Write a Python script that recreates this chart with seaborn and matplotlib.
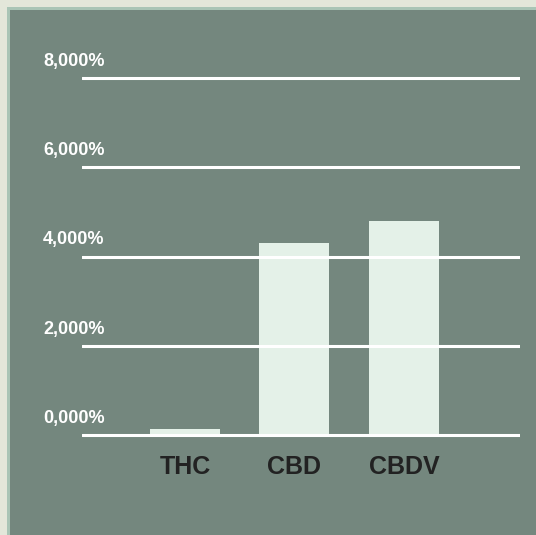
import matplotlib
matplotlib.use("Agg")
import matplotlib.pyplot as plt
import pandas as pd
import seaborn as sns
from matplotlib.patches import Rectangle

# data
compounds = ["THC", "CBD", "CBDV"]
values = [140, 4300, 4800]
yticks = [0, 2000, 4000, 6000, 8000]
ytick_labels = ["0,000%", "2,000%", "4,000%", "6,000%", "8,000%"]

df = pd.DataFrame({"compound": compounds, "value": values})

sns.set_theme(style="white")
plt.rcParams["font.family"] = ["Liberation Sans", "DejaVu Sans"]

outer = "#e3e7da"
edge = "#a9c5b6"
panel = "#74877e"
bar_col = "#e4f1e8"

fig = plt.figure(figsize=(5.36, 5.35), dpi=100)
fig.patch.set_facecolor(outer)
fig.patches.append(Rectangle((7 / 536, 0), 1, 528 / 535, transform=fig.transFigure,
                             facecolor=edge, edgecolor="none", zorder=-2))
fig.patches.append(Rectangle((10 / 536, 0), 1, 525 / 535, transform=fig.transFigure,
                             facecolor=panel, edgecolor="none", zorder=-1))

ax = fig.add_axes([82 / 536, 0.1735, 438 / 536, 0.6932])
ax.set_facecolor("none")

sns.barplot(data=df, x="compound", y="value", color=bar_col, saturation=1,
            width=0.64, linewidth=0, ax=ax)

ax.set_ylim(-150, 8150)
ax.set_xlim(-0.94, 3.06)
ax.set_yticks(yticks)
ax.set_yticklabels([])
ax.yaxis.grid(True, color="white", linewidth=2.2)
ax.set_axisbelow(False)
for s in ax.spines.values():
    s.set_visible(False)
ax.tick_params(axis="both", length=0)
ax.tick_params(axis="x", pad=9)
ax.set_xlabel("")
ax.set_ylabel("")
for lab in ax.get_xticklabels():
    lab.set_fontsize(18)
    lab.set_fontweight("bold")
    lab.set_color("#222222")

# y labels sit above their gridline, left aligned
for v, t in zip(yticks, ytick_labels):
    ax.annotate(t, xy=(-0.089, v), xycoords=ax.get_yaxis_transform(),
                xytext=(0, 9), textcoords="offset points",
                ha="left", va="baseline", fontsize=13, fontweight="bold",
                color="white")

fig.savefig("out.png", dpi=100, facecolor=fig.get_facecolor())
